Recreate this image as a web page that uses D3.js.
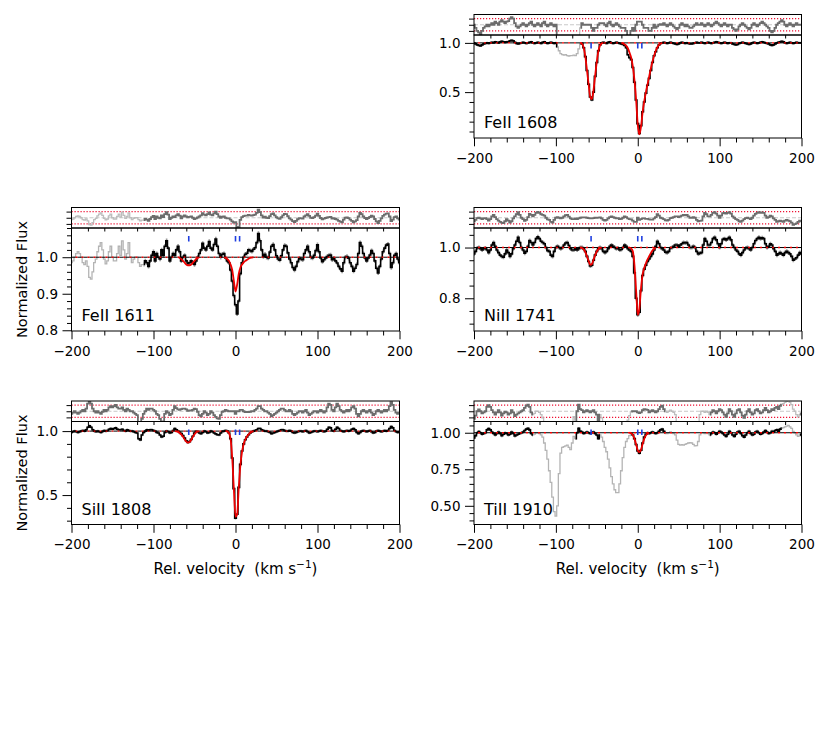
<!DOCTYPE html>
<html>
<head>
<meta charset="utf-8">
<script src="https://cdn.jsdelivr.net/npm/d3@7/dist/d3.min.js"></script>
<style>
  body { margin: 0; background: #fff; }
  text { font-family: "DejaVu Sans", sans-serif; }
</style>
</head>
<body>
<svg id="fig" width="830" height="733"></svg>
<script>
// pixel grid of the spectra (km/s)
var velocity = d3.range(-200, 201, 2);

var ions = ["FeII 1608", "FeII 1611", "NiII 1741", "SiII 1808", "TiII 1910"];

// normalized flux, one row = 20 km/s
var fluxFeII1608 = [
  1.0, 0.99, 0.98, 0.975, 0.97, 0.98, 0.99, 0.995, 1.0, 0.995,
  1.0, 1.005, 1.0, 1.01, 1.005, 1.0, 1.01, 1.015, 1.01, 1.005,
  1.01, 1.012, 1.02, 1.025, 1.02, 1.005, 0.995, 0.99, 0.995, 1.0,
  1.005, 1.0, 0.995, 1.0, 1.005, 1.01, 1.0, 0.995, 1.0, 1.005,
  1.0, 0.995, 1.005, 1.01, 1.0, 0.995, 1.0, 1.005, 1.0, 0.995,
  1.0, 0.96, 0.92, 0.89, 0.88, 0.875, 0.88, 0.87, 0.865, 0.87,
  0.87, 0.875, 0.87, 0.89, 0.94, 0.99, 0.995, 0.95, 0.86, 0.72,
  0.58, 0.45, 0.42, 0.5, 0.66, 0.8, 0.92, 0.98, 1.0, 1.005,
  1.0, 0.995, 1.005, 1.01, 1.0, 0.995, 1.0, 1.005, 1.0, 0.995,
  0.99, 0.985, 0.975, 0.95, 0.88, 0.85, 0.83, 0.75, 0.6, 0.42,
  0.18, 0.08, 0.16, 0.3, 0.4, 0.49, 0.57, 0.64, 0.72, 0.8,
  0.87, 0.91, 0.95, 0.98, 0.995, 1.0, 1.005, 1.0, 0.995, 1.0,
  1.005, 1.0, 0.995, 0.99, 0.985, 0.99, 1.0, 1.005, 1.0, 0.995,
  1.0, 0.995, 0.99, 0.99, 0.995, 1.0, 1.005, 1.0, 1.0, 1.005,
  1.0, 0.995, 1.0, 1.005, 1.0, 0.995, 1.0, 1.005, 1.01, 1.005,
  1.0, 0.995, 1.0, 1.005, 1.0, 0.995, 1.0, 1.0, 0.99, 0.985,
  0.98, 0.985, 0.995, 1.0, 1.005, 1.0, 0.995, 0.99, 0.985, 0.99,
  1.0, 1.005, 1.0, 0.995, 1.0, 1.005, 1.01, 1.005, 1.0, 0.995,
  0.99, 0.98, 0.975, 0.98, 0.99, 1.0, 1.005, 1.01, 1.015, 1.01,
  1.0, 0.995, 1.0, 1.005, 1.0, 0.995, 1.0, 1.005, 1.0, 1.0,
  1.0
];
var fluxFeII1611 = [
  0.985, 0.99, 1.0, 1.01, 1.015, 1.01, 1.0, 0.985, 0.98, 0.99,
  0.975, 0.945, 0.94, 0.96, 0.985, 0.995, 1.015, 1.03, 1.04, 1.02,
  0.995, 0.982, 0.99, 1.015, 1.03, 1.0, 0.99, 0.99, 1.01, 1.03,
  1.005, 1.045, 1.02, 0.995, 1.01, 1.04, 1.0, 0.985, 0.995, 1.0,
  1.0, 0.985, 0.975, 0.98, 0.98, 0.99, 0.985, 0.975, 0.99, 1.005,
  1.015, 0.99, 1.01, 1.0, 0.995, 1.02, 1.005, 1.03, 1.045, 1.025,
  0.99, 1.0, 1.01, 1.005, 1.02, 1.03, 1.015, 0.99, 1.0, 1.005,
  0.99, 0.982, 0.985, 0.99, 0.985, 0.98, 0.99, 1.0, 1.01, 1.02,
  1.038, 1.025, 1.02, 1.03, 1.043, 1.025, 1.02, 1.035, 1.05, 1.03,
  1.01, 1.0, 1.008, 1.01, 0.998, 0.99, 0.985, 0.965, 0.935, 0.895,
  0.87, 0.845, 0.88, 0.955, 0.985, 1.0, 1.008, 1.011, 1.02, 1.018,
  1.016, 1.022, 1.026, 1.04, 1.065, 1.045, 1.02, 1.002, 1.008, 1.0,
  0.998, 1.014, 1.03, 1.035, 1.02, 1.004, 0.995, 0.992, 1.004, 1.02,
  1.032, 1.03, 1.012, 0.995, 0.985, 0.972, 0.965, 0.975, 0.988, 0.997,
  0.995, 0.993, 1.01, 1.02, 1.03, 1.015, 1.0, 0.998, 1.005, 1.018,
  1.034, 1.015, 0.998, 0.988, 0.993, 0.998, 1.002, 1.005, 1.006, 0.993,
  0.997, 0.99, 0.984, 0.975, 0.968, 0.962, 0.985, 1.0, 1.002, 0.997,
  0.985, 0.975, 0.962, 0.97, 0.98, 1.01, 1.04, 1.03, 1.01, 0.998,
  0.99, 0.998, 1.006, 1.018, 1.01, 0.99, 0.97, 0.957, 0.975, 0.995,
  1.015, 1.025, 1.033, 1.036, 1.01, 0.972, 0.985, 1.005, 1.01, 0.995,
  0.985
];
var fluxNiII1741 = [
  0.975, 0.985, 0.998, 1.0, 0.995, 0.99, 0.995, 0.998, 0.99, 0.98,
  0.99, 1.01, 1.02, 1.005, 0.99, 0.98, 0.97, 0.965, 0.962, 0.975,
  0.99, 0.98, 0.965, 0.975, 0.995, 1.01, 1.025, 1.04, 1.02, 1.0,
  0.99, 0.978, 0.985, 1.005, 1.028, 1.02, 1.01, 1.02, 1.035, 1.042,
  1.035, 1.025, 1.02, 1.015, 1.0, 0.988, 0.985, 0.97, 0.965, 0.985,
  1.0, 1.005, 1.0, 0.995, 1.0, 1.01, 1.018, 1.02, 1.008, 0.995,
  0.99, 0.99, 0.995, 0.99, 0.995, 1.0, 1.0, 0.995, 0.985, 0.965,
  0.945, 0.927, 0.93, 0.95, 0.97, 0.985, 0.995, 1.0, 0.995, 0.985,
  0.98, 0.985, 0.995, 1.005, 1.01, 1.005, 1.0, 0.995, 0.998, 0.99,
  0.992, 1.0, 1.01, 1.005, 0.995, 0.99, 0.985, 0.965, 0.9, 0.8,
  0.735, 0.745, 0.83, 0.89, 0.915, 0.93, 0.945, 0.955, 0.965, 0.975,
  0.99, 1.005, 1.025, 1.015, 1.0, 0.995, 0.99, 0.982, 0.98, 0.985,
  0.998, 1.0, 1.005, 1.01, 1.01, 1.005, 1.01, 1.015, 1.02, 1.018,
  1.02, 1.01, 1.0, 1.0, 1.005, 1.0, 0.985, 0.975, 0.978, 0.98,
  1.01, 1.035, 1.025, 1.01, 1.01, 1.02, 1.035, 1.04, 1.03, 1.015,
  1.0, 1.015, 1.032, 1.035, 1.03, 1.035, 1.04, 1.03, 1.01, 1.0,
  0.99, 0.985, 0.975, 0.97, 0.98, 0.99, 0.998, 1.0, 0.995, 0.99,
  1.0, 1.015, 1.028, 1.035, 1.04, 1.035, 1.038, 1.035, 1.015, 1.0,
  1.005, 1.015, 1.01, 0.995, 0.985, 0.97, 0.975, 0.98, 0.975, 0.97,
  0.98, 0.985, 0.98, 0.975, 0.965, 0.95, 0.955, 0.96, 0.97, 0.98,
  0.975
];
var fluxSiII1808 = [
  0.99, 0.995, 1.0, 0.995, 0.99, 0.995, 1.0, 1.005, 1.0, 1.01,
  1.03, 1.042, 1.03, 1.01, 1.0, 0.995, 1.0, 0.995, 0.99, 0.998,
  1.005, 1.0, 1.005, 1.015, 1.02, 1.015, 1.02, 1.025, 1.015, 1.01,
  1.01, 1.015, 1.005, 1.0, 1.01, 1.005, 1.0, 1.0, 0.995, 0.99,
  0.985, 0.94, 0.93, 0.97, 0.99, 1.0, 1.01, 1.005, 1.01, 1.01,
  1.005, 1.0, 0.99, 0.985, 0.97, 0.955, 0.96, 0.99, 1.0, 0.995,
  0.985, 0.99, 1.005, 1.02, 1.01, 1.0, 0.99, 0.98, 0.965, 0.945,
  0.925, 0.912, 0.918, 0.935, 0.96, 0.985, 0.998, 0.995, 0.985, 0.98,
  0.99, 1.0, 0.995, 0.985, 0.99, 1.0, 0.995, 0.985, 0.978, 0.972,
  0.97, 0.985, 0.998, 1.0, 1.005, 1.0, 0.985, 0.94, 0.79, 0.55,
  0.32, 0.35, 0.56, 0.74, 0.845, 0.9, 0.932, 0.955, 0.972, 0.985,
  0.995, 1.0, 1.005, 1.01, 1.02, 1.02, 1.01, 1.005, 1.0, 1.0,
  0.995, 0.99, 0.98, 0.985, 0.99, 0.995, 1.0, 1.005, 1.01, 1.01,
  1.005, 1.0, 1.0, 1.005, 1.0, 0.99, 0.985, 0.99, 0.995, 1.0,
  1.0, 0.995, 1.0, 1.005, 0.995, 0.985, 0.99, 0.995, 1.0, 1.0,
  0.995, 1.0, 1.005, 1.0, 0.995, 1.0, 1.015, 1.03, 1.025, 1.005,
  1.0, 1.015, 1.03, 1.02, 1.005, 1.0, 0.995, 1.0, 1.005, 1.0,
  1.005, 1.015, 1.02, 1.01, 0.99, 0.98, 0.99, 1.0, 1.005, 1.0,
  0.995, 1.0, 1.005, 0.995, 0.985, 0.99, 1.0, 1.005, 1.0, 0.995,
  1.0, 1.005, 1.0, 1.005, 1.02, 1.035, 1.025, 1.005, 0.995, 0.99,
  0.995
];
var fluxTiII1910 = [
  0.965, 0.98, 1.0, 1.008, 1.0, 0.99, 0.995, 1.0, 1.02, 1.028,
  1.02, 1.005, 0.995, 0.985, 0.995, 1.005, 0.995, 0.98, 0.99, 0.998,
  0.995, 0.985, 0.99, 1.005, 0.995, 0.978, 0.985, 0.99, 0.995, 1.0,
  1.005, 1.015, 1.025, 1.03, 1.02, 0.995, 0.985, 0.99, 1.0, 1.0,
  0.995, 0.985, 0.97, 0.93, 0.88, 0.82, 0.74, 0.66, 0.56, 0.46,
  0.43, 0.5, 0.72, 0.86, 0.9, 0.905, 0.91, 0.915, 0.9, 0.885,
  0.93, 0.975, 0.96, 1.0, 1.03, 1.01, 1.005, 0.995, 1.0, 1.005,
  1.0, 0.995, 1.0, 1.005, 0.995, 0.985, 0.96, 0.985, 0.97, 0.94,
  0.9, 0.87, 0.82, 0.76, 0.7, 0.65, 0.61, 0.59, 0.59, 0.65,
  0.74, 0.83, 0.9, 0.94, 0.96, 0.98, 0.995, 0.985, 0.96, 0.92,
  0.875, 0.86, 0.88, 0.93, 0.97, 0.99, 1.0, 0.995, 1.0, 1.005,
  1.0, 0.995, 1.0, 1.01, 1.02, 1.025, 1.01, 1.0, 0.995, 1.0,
  1.005, 1.0, 0.995, 0.985, 0.95, 0.92, 0.915, 0.918, 0.915, 0.92,
  0.925, 0.93, 0.932, 0.93, 0.92, 0.91, 0.912, 0.94, 0.985, 1.0,
  1.0, 0.995, 1.0, 0.995, 0.985, 0.995, 1.005, 1.0, 0.99, 1.0,
  1.01, 1.005, 0.995, 0.985, 0.975, 0.99, 1.01, 1.0, 0.985, 0.975,
  0.99, 1.005, 1.01, 0.995, 0.98, 0.97, 0.985, 1.0, 1.01, 0.995,
  0.985, 0.99, 1.005, 1.01, 1.0, 0.99, 0.995, 1.005, 1.015, 1.005,
  0.995, 1.0, 1.01, 1.005, 1.015, 1.02, 1.01, 1.025, 1.03, 1.035,
  1.04, 1.045, 1.05, 1.04, 1.03, 1.01, 1.0, 0.985, 0.975, 0.985,
  0.99
];

// fitted model profile [velocity, flux] inside the fit windows; 1.0 elsewhere
var modelFeII1608 = [
  [-70, 1.0], [-68, 0.99], [-66, 0.95], [-64, 0.86], [-62, 0.72], [-60, 0.58], [-58, 0.45],
  [-56, 0.43], [-54, 0.52], [-52, 0.67], [-50, 0.81], [-48, 0.92], [-46, 0.975], [-44, 0.995], [-42, 1.0],
  [-20, 1.0], [-18, 0.995], [-16, 0.985], [-14, 0.97], [-12, 0.945], [-10, 0.9], [-8, 0.85], [-6, 0.76],
  [-4, 0.62], [-2, 0.42], [0, 0.17], [2, 0.07], [4, 0.15], [6, 0.3], [8, 0.41], [10, 0.5], [12, 0.58],
  [14, 0.66], [16, 0.74], [18, 0.81], [20, 0.87], [22, 0.92], [24, 0.955], [26, 0.98], [28, 0.993], [30, 1.0]
];
var modelFeII1611 = [
  [-70, 1.0], [-68, 0.998], [-66, 0.995], [-64, 0.99], [-62, 0.985], [-60, 0.98], [-58, 0.978],
  [-56, 0.978], [-54, 0.98], [-52, 0.985], [-50, 0.99], [-48, 0.995], [-46, 0.998], [-44, 1.0],
  [-14, 1.0], [-12, 0.998], [-10, 0.995], [-8, 0.99], [-6, 0.98], [-4, 0.965], [-2, 0.935], [0, 0.906],
  [2, 0.925], [4, 0.955], [6, 0.972], [8, 0.98], [10, 0.986], [12, 0.99], [14, 0.993], [16, 0.996],
  [18, 0.998], [20, 0.999], [22, 1.0]
];
var modelNiII1741 = [
  [-70, 1.0], [-68, 0.998], [-66, 0.993], [-64, 0.982], [-62, 0.965], [-60, 0.947], [-58, 0.932],
  [-56, 0.935], [-54, 0.952], [-52, 0.97], [-50, 0.985], [-48, 0.994], [-46, 0.998], [-44, 1.0],
  [-10, 1.0], [-8, 0.997], [-6, 0.985], [-4, 0.93], [-2, 0.83], [0, 0.735], [2, 0.76], [4, 0.84],
  [6, 0.895], [8, 0.92], [10, 0.938], [12, 0.953], [14, 0.966], [16, 0.978], [18, 0.988], [20, 0.995], [22, 1.0]
];
var modelSiII1808 = [
  [-74, 1.0], [-72, 0.998], [-70, 0.993], [-68, 0.985], [-66, 0.972], [-64, 0.955], [-62, 0.935],
  [-60, 0.918], [-58, 0.91], [-56, 0.915], [-54, 0.932], [-52, 0.955], [-50, 0.975], [-48, 0.99],
  [-46, 0.997], [-44, 1.0],
  [-12, 1.0], [-10, 0.998], [-8, 0.985], [-6, 0.94], [-4, 0.79], [-2, 0.55], [0, 0.33], [2, 0.35],
  [4, 0.56], [6, 0.735], [8, 0.84], [10, 0.9], [12, 0.935], [14, 0.958], [16, 0.975], [18, 0.987],
  [20, 0.995], [22, 1.0]
];
var modelTiII1910 = [
  [-10, 1.0], [-8, 0.997], [-6, 0.985], [-4, 0.96], [-2, 0.92], [0, 0.88], [2, 0.868], [4, 0.885],
  [6, 0.925], [8, 0.96], [10, 0.982], [12, 0.994], [14, 1.0]
];

// velocity ranges left out of the fit (drawn grey)
var maskFeII1608 = [[-99, -71]];
var maskFeII1611 = [[-200, -113]];
var maskNiII1741 = [];
var maskSiII1808 = [];
var maskTiII1910 = [[-129, -77], [-46, -9], [34, 87], [176, 196]];

var componentVel = [-57, 0, 5];
var fluxErr = [0.012, 0.006, 0.008, 0.01, 0.01];
var residSigma = [0.01, 0.025, 0.022, 0.012, 0.014];
var yMajorTicks = [[0.5, 1.0], [0.8, 0.9, 1.0], [0.8, 1.0], [0.5, 1.0], [0.5, 0.75, 1.0]];
var xMajorTicks = [-200, -100, 0, 100, 200];

var fluxes = [fluxFeII1608, fluxFeII1611, fluxNiII1741, fluxSiII1808, fluxTiII1910];
var models = [modelFeII1608, modelFeII1611, modelNiII1741, modelSiII1808, modelTiII1910];
var masks = [maskFeII1608, maskFeII1611, maskNiII1741, maskSiII1808, maskTiII1910];

// layout
var colX = [[71.5, 399.5], [474, 801.5]];
var rowTop = [14.5, 207.5, 401];
var stripH = 20.5, mainH = 103;
var layout = [
  {col: 1, row: 0, yDomain: [0.034, 1.08], minor: 0.1, fmt: ".1f"},
  {col: 0, row: 1, yDomain: [0.798, 1.08], minor: 0.02, fmt: ".1f", yLabel: true},
  {col: 1, row: 1, yDomain: [0.671, 1.077], minor: 0.05, fmt: ".1f"},
  {col: 0, row: 2, yDomain: [0.27, 1.075], minor: 0.1, fmt: ".1f", yLabel: true, xLabel: true},
  {col: 1, row: 2, yDomain: [0.372, 1.077], minor: 0.05, fmt: ".2f", xLabel: true}
];

var svg = d3.select("#fig");
var defs = svg.append("defs");

// consecutive points sharing the masked flag; each run keeps the next point so steps join
function splitRuns(pts) {
    var runs = [], cur = null;
    pts.forEach(function (p) {
        if (!cur || cur.masked !== p.masked) {
            if (cur) cur.pts.push(p);
            cur = {masked: p.masked, pts: []};
            runs.push(cur);
        }
        cur.pts.push(p);
    });
    return runs;
}

// model points split into fit windows (a window ends where two 1.0 points meet)
function splitWindows(model) {
    var wins = [], cur = [];
    model.forEach(function (p, i) {
        if (i > 0 && p[1] === 1 && model[i - 1][1] === 1 && cur.length) {
            wins.push(cur);
            cur = [];
        }
        cur.push(p);
    });
    if (cur.length) wins.push(cur);
    return wins;
}

function styleAxis(g) {
    g.select(".domain").remove();
    g.selectAll("line").attr("stroke", "#000").attr("stroke-width", 1);
    g.selectAll("text").attr("fill", "#000").style("font-size", "13.5px").attr("font-family", "DejaVu Sans");
}

layout.forEach(function (L, k) {
    var x0 = colX[L.col][0], x1 = colX[L.col][1];
    var sTop = rowTop[L.row], mTop = sTop + stripH, mBot = mTop + mainH;
    var x = d3.scaleLinear().domain([-200, 200]).range([x0, x1]);
    var y = d3.scaleLinear().domain(L.yDomain).range([mBot, mTop]);
    var yr = d3.scaleLinear().domain([-3.33, 3.33]).range([mTop, sTop]);

    var mMap = new Map(models[k].map(function (p) { return [p[0], p[1]]; }));
    var pts = velocity.map(function (v, i) {
        var m = mMap.has(v) ? mMap.get(v) : 1;
        return {
            v: v, f: fluxes[k][i], m: m,
            r: (fluxes[k][i] - m) / residSigma[k],
            masked: masks[k].some(function (r) { return v >= r[0] && v <= r[1]; })
        };
    });
    var runs = splitRuns(pts);

    defs.append("clipPath").attr("id", "cm" + k).append("rect")
        .attr("x", x0).attr("y", mTop).attr("width", x1 - x0).attr("height", mainH);
    defs.append("clipPath").attr("id", "cs" + k).append("rect")
        .attr("x", x0).attr("y", sTop).attr("width", x1 - x0).attr("height", stripH);

    // ---- residual strip
    var gs = svg.append("g").attr("clip-path", "url(#cs" + k + ")");
    gs.append("line").attr("x1", x0).attr("x2", x1).attr("y1", yr(0)).attr("y2", yr(0))
        .attr("stroke", "#c8c8c8").attr("stroke-width", 1).attr("stroke-dasharray", "4,2");
    [-2, 2].forEach(function (d) {
        gs.append("line").attr("x1", x0).attr("x2", x1).attr("y1", yr(d)).attr("y2", yr(d))
            .attr("stroke", "#ee1133").attr("stroke-width", 1.2).attr("stroke-dasharray", "1.2,1.8");
    });
    var rline = d3.line().curve(d3.curveStep)
        .x(function (d) { return x(d.v); })
        .y(function (d) { return yr(Math.max(-3.6, Math.min(3.6, d.r))); });
    runs.forEach(function (run) {
        gs.append("path").attr("d", rline(run.pts)).attr("fill", "none")
            .attr("stroke", run.masked ? "#bdbdbd" : "#6c6c6c")
            .attr("stroke-width", run.masked ? 1.3 : 1.8);
    });
    svg.append("rect").attr("x", x0).attr("y", sTop).attr("width", x1 - x0).attr("height", stripH)
        .attr("fill", "none").attr("stroke", "#000").attr("stroke-width", 1);
    svg.append("g").attr("transform", "translate(" + x0 + ",0)")
        .call(d3.axisLeft(yr).tickValues([-2, 0, 2]).tickSize(5).tickFormat(""))
        .call(styleAxis);

    // ---- main spectrum
    var gm = svg.append("g").attr("clip-path", "url(#cm" + k + ")");
    var band = d3.area().curve(d3.curveStep)
        .x(function (d) { return x(d.v); })
        .y0(function (d) { return y(d.f - fluxErr[k]); })
        .y1(function (d) { return y(d.f + fluxErr[k]); });
    var sline = d3.line().curve(d3.curveStep)
        .x(function (d) { return x(d.v); })
        .y(function (d) { return y(d.f); });
    runs.forEach(function (run) {
        if (!run.masked) {
            gm.append("path").attr("d", band(run.pts)).attr("fill", "#9a9a9a").attr("stroke", "none");
        }
    });
    runs.forEach(function (run) {
        gm.append("path").attr("d", sline(run.pts)).attr("fill", "none")
            .attr("stroke", run.masked ? "#b4b4b4" : "#000")
            .attr("stroke-width", run.masked ? 1.3 : 1.6);
    });
    // continuum: red dotted and black dashed alternating
    gm.append("line").attr("x1", x0).attr("x2", x1).attr("y1", y(1)).attr("y2", y(1))
        .attr("stroke", "#ee0000").attr("stroke-width", 1.4).attr("stroke-dasharray", "2,4")
        .attr("stroke-dashoffset", -4);
    gm.append("line").attr("x1", x0).attr("x2", x1).attr("y1", y(1)).attr("y2", y(1))
        .attr("stroke", "#000").attr("stroke-width", 1).attr("stroke-dasharray", "4,2");
    var mline = d3.line().curve(d3.curveMonotoneX)
        .x(function (d) { return x(d[0]); })
        .y(function (d) { return y(d[1]); });
    splitWindows(models[k]).forEach(function (w) {
        gm.append("path").attr("d", mline(w))
            .attr("fill", "none").attr("stroke", "#ee0000").attr("stroke-width", 1.8);
    });

    // component markers
    gm.selectAll(".comp").data(componentVel).enter().append("line").attr("class", "comp")
        .attr("x1", function (d) { return x(d); }).attr("x2", function (d) { return x(d); })
        .attr("y1", mTop + 8).attr("y2", mTop + 13.5)
        .attr("stroke", "#1f3fe0").attr("stroke-width", 1.6);

    svg.append("rect").attr("x", x0).attr("y", mTop).attr("width", x1 - x0).attr("height", mainH)
        .attr("fill", "none").attr("stroke", "#000").attr("stroke-width", 1);

    // axes
    var xMinor = d3.range(-200, 201, 20).filter(function (v) { return xMajorTicks.indexOf(v) < 0; });
    svg.append("g").attr("transform", "translate(0," + mBot + ")")
        .call(d3.axisBottom(x).tickValues(xMinor).tickSize(4.5).tickFormat(""))
        .call(styleAxis);
    svg.append("g").attr("transform", "translate(0," + mBot + ")")
        .call(d3.axisBottom(x).tickValues(xMajorTicks).tickSize(8.3).tickPadding(7).tickFormat(d3.format("d")))
        .call(styleAxis);
    svg.append("g").attr("transform", "translate(0," + mTop + ")")
        .call(d3.axisBottom(x).tickValues(d3.range(-180, 200, 20)).tickSize(3.5).tickFormat(""))
        .call(styleAxis);

    var yMinor = d3.range(Math.ceil(L.yDomain[0] / L.minor - 1e-6) * L.minor, L.yDomain[1], L.minor)
        .filter(function (v) {
            return !yMajorTicks[k].some(function (t) { return Math.abs(t - v) < 1e-6; });
        });
    svg.append("g").attr("transform", "translate(" + x0 + ",0)")
        .call(d3.axisLeft(y).tickValues(yMinor).tickSize(4.5).tickFormat(""))
        .call(styleAxis);
    svg.append("g").attr("transform", "translate(" + x0 + ",0)")
        .call(d3.axisLeft(y).tickValues(yMajorTicks[k]).tickSize(9).tickPadding(4.5).tickFormat(d3.format(L.fmt)))
        .call(styleAxis);

    // ion label
    svg.append("text").attr("x", x0 + 10).attr("y", mBot - 10)
        .style("font-size", "16px").attr("fill", "#000").text(ions[k]);

    if (L.yLabel) {
        svg.append("text")
            .attr("transform", "translate(" + 27 + "," + ((mTop + mBot) / 2) + ") rotate(-90)")
            .attr("text-anchor", "middle").style("font-size", "14.5px").attr("fill", "#000")
            .text("Normalized Flux");
    }
    if (L.xLabel) {
        var t = svg.append("text").attr("x", (x0 + x1) / 2).attr("y", mBot + 49)
            .attr("text-anchor", "middle").style("font-size", "15px").style("white-space", "pre")
            .attr("fill", "#000");
        t.append("tspan").text("Rel. velocity  (km s");
        t.append("tspan").attr("dy", -6).style("font-size", "10.5px").text("\u22121");
        t.append("tspan").attr("dy", 6).text(")");
    }
});
</script>
</body>
</html>
